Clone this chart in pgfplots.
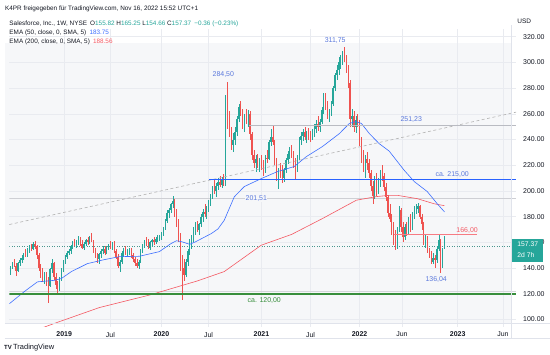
\documentclass[border=0pt]{standalone}
\usepackage{pgfplots}
\pgfplotsset{compat=1.18}
\usepackage{pgfplotstable}
\usepackage{fontspec}
\setmainfont{Liberation Sans}
\definecolor{upc}{RGB}{38,166,154}
\definecolor{dnc}{RGB}{239,83,80}
\definecolor{txt}{RGB}{19,23,34}
\definecolor{bgc}{RGB}{246,247,249}
\definecolor{gridc}{RGB}{233,235,240}
\definecolor{emab}{RGB}{60,110,255}
\definecolor{emar}{RGB}{244,90,100}
\definecolor{lblb}{RGB}{90,120,220}
\definecolor{hgreen}{RGB}{56,142,60}
\definecolor{hblue}{RGB}{41,98,255}
\definecolor{hgray}{RGB}{185,187,194}
\definecolor{linec}{RGB}{224,227,235}

\pgfplotstableread{
i o h l c
0 136 142 135 141
1 141 145 139 144
2 144 147 141 142
3 142 144 134 138
4 138 145 137 144
5 144 148 142 146
6 146 150 144 148
7 148 152 146 151
8 151 155 149 150
9 150 156 149 155
10 155 158 152 157
11 157 159 153 155
12 155 160 154 159
13 159 161 155 157
14 157 158 147 150
15 150 152 138 140
16 140 143 132 136
17 136 140 129 131
18 131 137 128 135
19 135 137 126 128
20 128 133 113 126
21 126 140 125 139
22 139 147 136 144
23 144 145 131 133
24 133 136 124 127
25 127 130 120 124
26 124 133 122 132
27 132 140 130 139
28 139 146 137 145
29 145 150 143 149
30 149 153 147 152
31 152 155 150 153
32 153 158 151 157
33 157 161 155 160
34 160 163 157 158
35 158 162 156 161
36 161 165 158 163
37 163 164 157 159
38 159 162 155 156
39 156 160 154 159
40 159 163 157 162
41 162 164 158 160
42 160 165 159 164
43 164 167 160 161
44 161 162 152 154
45 154 156 148 150
46 150 152 144 147
47 147 152 143 151
48 151 155 148 153
49 153 157 151 155
50 155 157 150 152
51 152 157 151 156
52 156 159 154 158
53 158 161 155 157
54 157 160 154 159
55 159 161 152 153
56 153 155 147 149
57 149 151 140 142
58 142 146 137 145
59 145 153 143 152
60 152 156 149 154
61 154 157 150 151
62 151 155 149 153
63 153 156 150 155
64 155 156 148 150
65 150 152 145 147
66 147 149 142 144
67 144 147 140 142
68 142 146 139 145
69 145 155 144 154
70 154 159 152 158
71 158 162 156 161
72 161 164 157 159
73 159 163 155 156
74 156 161 154 160
75 160 163 157 162
76 162 164 158 160
77 160 164 159 163
78 163 166 160 164
79 164 166 161 165
80 165 168 162 166
81 166 172 165 171
82 171 178 170 177
83 177 185 175 183
84 183 187 179 185
85 185 191 183 190
86 190 196 187 192
87 192 194 180 183
88 183 186 172 175
89 175 178 160 164
90 164 167 138 142
91 142 150 115 140
92 140 147 130 135
93 135 147 133 145
94 145 155 142 153
95 153 163 150 160
96 160 166 155 164
97 164 172 160 170
98 170 176 166 173
99 173 177 168 170
100 170 175 166 174
101 174 182 172 180
102 180 186 176 184
103 184 190 180 182
104 182 188 178 186
105 186 193 184 191
106 191 198 188 196
107 196 204 194 202
108 202 209 198 200
109 200 206 195 204
110 204 210 201 207
111 207 212 203 205
112 205 211 202 209
113 209 213 204 206
114 206 275 204 270
115 270 284.5 248 256
116 256 262 242 246
117 246 250 232 236
118 236 245 230 240
119 240 250 236 246
120 246 258 243 256
121 256 268 254 265
122 265 270 258 262
123 262 264 248 252
124 252 260 246 258
125 258 264 252 255
126 255 263 250 260
127 260 262 240 244
128 244 246 224 228
129 228 232 218 222
130 222 228 215 225
131 225 229 218 220
132 220 226 215 223
133 223 228 216 219
134 219 224 212 216
135 216 228 214 226
136 226 232 222 225
137 225 240 224 238
138 238 248 235 242
139 242 251 236 238
140 238 240 220 222
141 222 226 208 212
142 212 218 201.5 216
143 216 222 210 214
144 214 220 206 210
145 210 218 207 216
146 216 226 214 224
147 224 231 221 229
148 229 234 225 231
149 231 236 226 228
150 228 231 218 222
151 222 226 209.6 218
152 218 228 215 226
153 226 242 224 240
154 240 246 236 243
155 243 248 239 246
156 246 250 240 242
157 242 247 237 245
158 245 249 240 243
159 243 247 238 241
160 241 248 240 246
161 246 252 242 248
162 248 255 245 252
163 252 258 247 250
164 250 256 246 254
165 254 265 252 263
166 263 276 260 272
167 272 276 263 266
168 266 270 256 258
169 258 264 254 261
170 261 270 258 268
171 268 282 266 280
172 280 292 278 290
173 290 298 286 294
174 294 304 290 300
175 300 306 295 302
176 302 309 298 306
177 306 311.75 300 304
178 304 306 292 295
179 295 298 280 284
180 284 286 250 256
181 256 264 250 258
182 258 262 246 250
183 250 258 245 255
184 255 260 250 253
185 253 255 235 238
186 238 242 222 226
187 226 232 215 218
188 218 228 210 225
189 225 230 216 222
190 222 225 210 214
191 214 216 200 204
192 204 208 190 196
193 196 212 194 210
194 210 214 196 200
195 200 210 198 207
196 207 216 203 214
197 214 220 208 212
198 212 214 200 203
199 203 206 192 195
200 195 197 180 183
201 183 190 176 178
202 178 182 166 170
203 170 176 158 166
204 166 170 154 158
205 158 172 155 170
206 170 188 168 185
207 185 187 168 172
208 172 176 160 164
209 164 174 162 172
210 172 176 165 168
211 168 180 166 178
212 178 182 168 171
213 171 184 170 182
214 182 188 178 185
215 185 190 182 186
216 186 190.5 183 188
217 188 189 178 180
218 180 182 170 174
219 174 176 158 160
220 160 166 156 164
221 164 165 152 154
222 154 156 148 150
223 150 153 143 145
224 145 152 143 148
225 148 150 140 146
226 146 157 144 155
227 155 166 153 162
228 162 163 136.04 141
229 141 156 140 155
230 155.82 165.25 154.66 157.37
}\candles

\pgfplotstableread{
i v
-0.5 112.4
7.4 121.8
14.3 129.3
23.3 130.5
27 131.9
32.3 137.3
40.8 143.5
49.8 146.6
57.7 148.9
68.3 149.2
78.9 152.8
85 159
88 161.3
91 160.4
95 158.5
98 160.4
106.5 166.9
110 170.5
113.3 177.2
118.6 195.4
123.9 203.4
132.9 209.6
141.4 215
150.4 219
156.8 226.7
165.3 234.5
174.3 244.6
179.6 252.5
183 254
186 252.5
190.2 244.6
195.4 236.8
200.7 231
208.7 216
214 207.3
220.9 199.5
226.2 190
230 183.75
}\emafifty

\pgfplotstableread{
i v
14 92
23.3 97
47.1 109.3
73.6 119
99 130
113.3 137.3
132.9 157.8
149 166.2
165.3 178.5
183.3 192.8
193.9 195.6
200.7 196.6
205 196.6
215.6 194
224.6 190
230 188.56
}\ematwohundred

\begin{document}
\begin{tikzpicture}[x=1bp,y=1bp]
\fill[white] (0,0) rectangle (550,355);
\fill[bgc] (5,32) rectangle (512,312);
\begin{axis}[
  at={(5,22)}, anchor=south west,
  width=507bp, height=298bp, scale only axis,
  xmin=-0.53, xmax=268, ymin=94.57, ymax=326.2,
  axis line style={draw=none},
  xtick={28.5,53,80,105,133,159,185,207.5,237,261},
  xticklabels={\textbf{2019},Jul,\textbf{2020},Jul,\textbf{2021},Jul,\textbf{2022},Jun,\textbf{2023},Jun},
  ytick={100,120,...,320},
  yticklabel pos=right,
  /pgf/number format/assume math mode=true,
  y tick label style={/pgf/number format/fixed, /pgf/number format/fixed zerofill, /pgf/number format/precision=2, /pgf/number format/1000 sep={}},
  yticklabel style={anchor=west, xshift=3.5bp, font=\fontsize{7}{8}\selectfont, text=txt},
  xticklabel style={anchor=center, yshift=-8bp, font=\fontsize{7}{8}\selectfont, text=txt},
  major tick length=0pt,
  grid=major, major grid style={gridc, line width=0.5bp},
  clip=true,
]
% horizontal drawings under series
\addplot[hgray!70, line width=0.8bp] coordinates {(-0.53,194) (268,194)};
\addplot[hgray!60, line width=0.8bp] coordinates {(-0.53,121.5) (268,121.5)};
\addplot[upc!60!gray, line width=0.5bp, dash pattern=on 1bp off 1.5bp] coordinates {(-0.53,157.37) (268,157.37)};

% wicks
\addplot[draw=none, no markers, restrict y to domain=0:1000,
  error bars/.cd, y dir=both, y explicit, error mark=none, error bar style={draw=upc, line width=0.45bp}]
  table[x=i, y expr={\thisrow{c}>=\thisrow{o} ? (\thisrow{h}+\thisrow{l})/2 : -1000}, y error expr={(\thisrow{h}-\thisrow{l})/2}] {\candles};
\addplot[draw=none, no markers, restrict y to domain=0:1000,
  error bars/.cd, y dir=both, y explicit, error mark=none, error bar style={draw=dnc, line width=0.45bp}]
  table[x=i, y expr={\thisrow{c}<\thisrow{o} ? (\thisrow{h}+\thisrow{l})/2 : -1000}, y error expr={(\thisrow{h}-\thisrow{l})/2}] {\candles};
% bodies
\addplot[draw=none, no markers, restrict y to domain=0:1000,
  error bars/.cd, y dir=both, y explicit, error mark=none, error bar style={draw=upc, line width=1.3bp}]
  table[x=i, y expr={\thisrow{c}>=\thisrow{o} ? (\thisrow{o}+\thisrow{c})/2 : -1000}, y error expr={max(abs(\thisrow{c}-\thisrow{o})/2,0.4)}] {\candles};
\addplot[draw=none, no markers, restrict y to domain=0:1000,
  error bars/.cd, y dir=both, y explicit, error mark=none, error bar style={draw=dnc, line width=1.3bp}]
  table[x=i, y expr={\thisrow{c}<\thisrow{o} ? (\thisrow{o}+\thisrow{c})/2 : -1000}, y error expr={max(abs(\thisrow{c}-\thisrow{o})/2,0.4)}] {\candles};

% EMAs
\addplot[emar, line width=0.6bp] table[x=i, y=v] {\ematwohundred};
\addplot[emab, line width=0.6bp] table[x=i, y=v] {\emafifty};

% drawings
\addplot[gray!60, line width=0.6bp, dash pattern=on 3bp off 2.5bp] coordinates {(-0.53,173.9) (268,261.3)};
\addplot[hgray, line width=0.9bp] coordinates {(126.6,251.23) (268,251.23)};
\addplot[hblue, line width=1.3bp] coordinates {(105.4,208.9) (268,208.9)};
\addplot[hgreen, line width=2bp] coordinates {(-0.53,119.7) (268,119.7)};
\addplot[emar!80, line width=0.9bp] coordinates {(203.4,166) (247.4,166)};

% labels
\node[text=lblb, font=\fontsize{7}{8}\selectfont, inner sep=0.5bp] at (axis cs:172.1,316.9) {311,75};
\node[text=lblb, font=\fontsize{7}{8}\selectfont, inner sep=0.5bp] at (axis cs:112.8,290.7) {284,50};
\node[text=lblb, font=\fontsize{7}{8}\selectfont, inner sep=0.5bp] at (axis cs:212.4,255.5) {251,23};
\node[text=lblb, font=\fontsize{7}{8}\selectfont, inner sep=0.5bp] at (axis cs:234.1,212.7) {ca. 215,00};
\node[text=lblb, fill=bgc, font=\fontsize{7}{8}\selectfont, inner sep=0.5bp] at (axis cs:130.3,194) {201,51};
\node[text=emar, font=\fontsize{7}{8}\selectfont, inner sep=0.5bp] at (axis cs:242,169.2) {166,00};
\node[text=lblb, font=\fontsize{7}{8}\selectfont, inner sep=0.5bp] at (axis cs:225.6,131.1) {136,04};
\node[text=hgreen, font=\fontsize{7}{8}\selectfont, inner sep=0.5bp] at (axis cs:134.5,114.8) {ca. 120,00};
\end{axis}

% frame lines
\draw[linec, line width=0.6bp] (5,32) -- (550,32);
\draw[linec, line width=0.6bp] (5,17) -- (550,17);
\draw[linec, line width=0.6bp] (512,17) -- (512,330);

% price badge
\fill[upc] (512,93) rectangle (543,116);
\node[anchor=west, text=white, font=\fontsize{6.8}{8}\selectfont, inner sep=0] at (517.5,110.5) {157.37};
\node[anchor=west, text=white, font=\fontsize{6.8}{8}\selectfont, inner sep=0] at (517.5,100) {2d 7h};
\node[anchor=west, text=txt, font=\fontsize{6.5}{8}\selectfont, inner sep=0] at (517.5,334) {USD};

% header
\begin{scope}[every node/.style={anchor=west, inner sep=0, text=txt, font=\fontsize{6.4}{8}\selectfont}]
\node at (5,346) {K4PR freigegeben für TradingView.com, Nov 16, 2022 15:52 UTC+1};
\node at (9.3,331) {Salesforce, Inc., 1W, NYSE\enspace O\textcolor{upc}{155.82} H\textcolor{upc}{165.25} L\textcolor{upc}{154.66} C\textcolor{upc}{157.37}\enspace\textcolor{upc}{−0.36 (−0.23\%)}};
\node at (9.3,321.7) {EMA (50, close, 0, SMA, 5)\enspace\textcolor{emab}{183.75}};
\node at (9.3,313.3) {EMA (200, close, 0, SMA, 5)\enspace\textcolor{emar}{188.56}};
\end{scope}

% logo
\node[anchor=west, inner sep=0, text=txt, font=\fontsize{6}{7}\bfseries] at (4,7) {TV};
\node[anchor=west, inner sep=0, text=txt, font=\fontsize{7.5}{8}\selectfont] at (13,7) {TradingView};
\end{tikzpicture}
\end{document}
